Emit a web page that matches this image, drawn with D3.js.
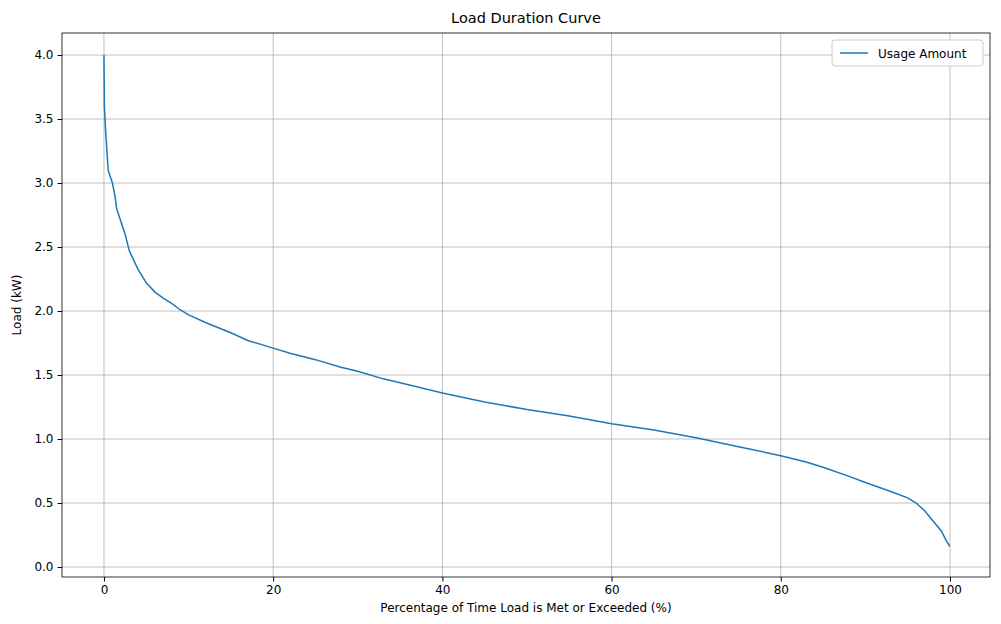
<!DOCTYPE html>
<html>
<head>
<meta charset="utf-8">
<script src="https://cdn.jsdelivr.net/npm/d3@7"></script>
<style>
  body { margin: 0; background: #fff; }
  text { font-family: "DejaVu Sans", sans-serif; }
</style>
</head>
<body>
<svg id="chart" width="1001" height="624"></svg>
<script>
// percentage of time vs load (kW)
const pct = [0, 0.05, 0.2, 0.5, 1, 1.3, 1.5, 2, 2.5, 3, 4, 5, 6, 7, 8, 9, 10, 12, 15, 17, 20, 22, 25, 28, 30, 33, 35, 40, 45, 50, 55, 60, 65, 70, 75, 80, 83, 85, 88, 90, 93, 95, 96, 97, 98, 99, 99.6, 100];
const load = [4.0, 3.6, 3.4, 3.1, 3.0, 2.9, 2.8, 2.7, 2.6, 2.47, 2.33, 2.22, 2.15, 2.1, 2.06, 2.01, 1.97, 1.91, 1.83, 1.77, 1.71, 1.67, 1.62, 1.56, 1.53, 1.47, 1.44, 1.36, 1.29, 1.23, 1.18, 1.12, 1.07, 1.01, 0.94, 0.87, 0.82, 0.78, 0.71, 0.66, 0.59, 0.54, 0.50, 0.44, 0.36, 0.28, 0.2, 0.16];
const xTicks = [0, 20, 40, 60, 80, 100];
const yTicks = [0, 0.5, 1, 1.5, 2, 2.5, 3, 3.5, 4];

const svg = d3.select("#chart");
const pl = 62, pr = 990, pt = 33, pb = 577;

// 0 -> 103px, 100 -> 949px ; 0 -> 567px, 4 -> 55px
const x = d3.scaleLinear().domain([-4.96, 104.73]).range([pl, pr]);
const y = d3.scaleLinear().domain([-0.078, 4.172]).range([pb, pt]);

// grid
svg.append("g").selectAll("line").data(xTicks).enter().append("line")
  .attr("x1", d => x(d)).attr("x2", d => x(d)).attr("y1", pt).attr("y2", pb)
  .attr("stroke", "#b0b0b0").attr("stroke-width", 0.8);
svg.append("g").selectAll("line").data(yTicks).enter().append("line")
  .attr("x1", pl).attr("x2", pr).attr("y1", d => y(d)).attr("y2", d => y(d))
  .attr("stroke", "#b0b0b0").attr("stroke-width", 0.8);

// axes
const xAxis = svg.append("g").attr("transform", `translate(0,${pb})`)
  .call(d3.axisBottom(x).tickValues(xTicks).tickSize(4.5).tickPadding(4).tickFormat(d3.format("d")));
const yAxis = svg.append("g").attr("transform", `translate(${pl},0)`)
  .call(d3.axisLeft(y).tickValues(yTicks).tickSize(4.5).tickPadding(4).tickFormat(d3.format(".1f")));
[xAxis, yAxis].forEach(a => {
  a.select(".domain").remove();
  a.selectAll("text").style("font-size", "12px").attr("fill", "#000").style("font-family", "DejaVu Sans");
  a.selectAll("line").attr("stroke", "#000");
});

svg.append("rect").attr("x", pl).attr("y", pt).attr("width", pr - pl).attr("height", pb - pt)
  .attr("fill", "none").attr("stroke", "#000").attr("stroke-width", 0.8);

// line
svg.append("path").datum(pct.map((p, i) => [p, load[i]]))
  .attr("fill", "none").attr("stroke", "#1f77b4").attr("stroke-width", 1.5)
  .attr("d", d3.line().x(d => x(d[0])).y(d => y(d[1])));

// labels
svg.append("text").attr("x", (pl + pr) / 2).attr("y", 23).attr("text-anchor", "middle")
  .style("font-size", "14.5px").text("Load Duration Curve");
svg.append("text").attr("x", (pl + pr) / 2).attr("y", 612).attr("text-anchor", "middle")
  .style("font-size", "12px").text("Percentage of Time Load is Met or Exceeded (%)");
svg.append("text").attr("transform", `translate(21,${(pt + pb) / 2}) rotate(-90)`).attr("text-anchor", "middle")
  .style("font-size", "12px").text("Load (kW)");

// legend
const lg = svg.append("g").attr("transform", "translate(832,40)");
lg.append("rect").attr("width", 151).attr("height", 26).attr("rx", 3)
  .attr("fill", "#fff").attr("stroke", "#ccc");
lg.append("line").attr("x1", 8).attr("x2", 36).attr("y1", 13).attr("y2", 13)
  .attr("stroke", "#1f77b4").attr("stroke-width", 1.5);
lg.append("text").attr("x", 46).attr("y", 17.5).style("font-size", "12px").text("Usage Amount");
</script>
</body>
</html>
